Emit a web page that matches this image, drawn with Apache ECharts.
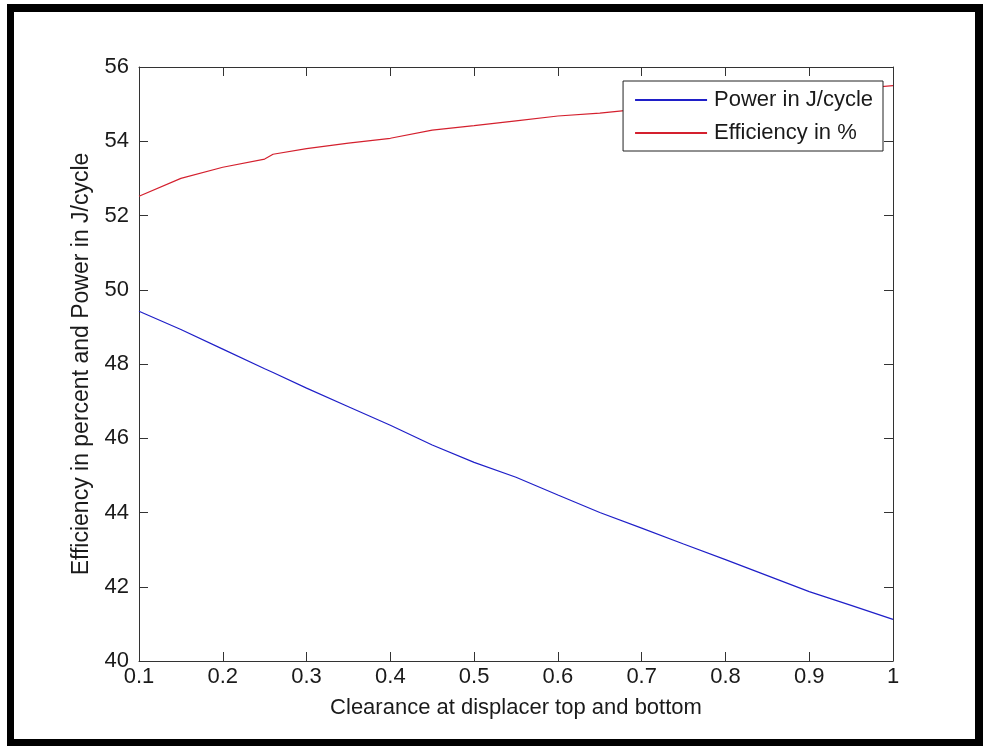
<!DOCTYPE html>
<html>
<head>
<meta charset="utf-8">
<script src="https://cdn.jsdelivr.net/npm/echarts@6/dist/echarts.min.js"></script>
<style>
  html, body { margin: 0; padding: 0; background: #fff; }
  #chart { width: 983px; height: 746px; }
</style>
</head>
<body>
<div id="chart"></div>
<script>
// Clearance values (x) at which both quantities were sampled
const clearance = [0.10, 0.15, 0.20, 0.25, 0.26, 0.30, 0.35, 0.40, 0.45, 0.50,
                   0.55, 0.60, 0.65, 0.70, 0.75, 0.80, 0.85, 0.90, 0.95, 1.00];

// Work per cycle, J/cycle
const power = [49.42, 48.93, 48.40, 47.87, 47.77, 47.35, 46.85, 46.35, 45.82, 45.35,
               44.95, 44.47, 44.00, 43.58, 43.15, 42.73, 42.30, 41.87, 41.50, 41.12];

// Thermal efficiency, %
const efficiency = [52.52, 53.00, 53.30, 53.52, 53.65, 53.80, 53.95, 54.08, 54.30, 54.42,
                    54.55, 54.68, 54.76, 54.87, 55.00, 55.10, 55.20, 55.30, 55.40, 55.50];

const xTicks = { min: 0.1, max: 1, interval: 0.1 };
const yTicks = { min: 40, max: 56, interval: 2 };

const FONT = 'Liberation Sans, Arial, sans-serif';
const INK = '#1a1a1a';
const AXIS = '#333333';
const BLUE = '#1f1fc8';
const RED = '#d4202e';

const pairs = (xs, ys) => xs.map((x, i) => [x, ys[i]]);

const chart = echarts.init(document.getElementById('chart'), null, { renderer: 'canvas' });

const tickSide = {
  axisLine: { show: true, lineStyle: { color: AXIS, width: 1 } },
  axisTick: { show: true, inside: true, length: 9, lineStyle: { color: AXIS, width: 1 } },
  splitLine: { show: false }
};

chart.setOption({
  backgroundColor: '#ffffff',
  animation: false,
  textStyle: { fontFamily: FONT },
  grid: { left: 139, top: 67, right: 90, bottom: 85, containLabel: false },
  xAxis: [
    Object.assign({
      type: 'value', position: 'bottom',
      min: xTicks.min, max: xTicks.max, interval: xTicks.interval,
      name: 'Clearance at displacer top and bottom',
      nameLocation: 'middle', nameGap: 36,
      nameTextStyle: { fontSize: 22, color: INK, fontFamily: FONT },
      axisLabel: {
        fontSize: 22, color: INK, fontFamily: FONT, margin: 5,
        formatter: v => String(+v.toFixed(2))
      }
    }, tickSide),
    Object.assign({
      type: 'value', position: 'top',
      min: xTicks.min, max: xTicks.max, interval: xTicks.interval,
      name: '',
      axisLabel: { show: false }
    }, tickSide)
  ],
  yAxis: [
    Object.assign({
      type: 'value', position: 'left',
      min: yTicks.min, max: yTicks.max, interval: yTicks.interval,
      name: 'Efficiency in percent and Power in J/cycle',
      nameLocation: 'middle', nameGap: 44, nameRotate: 90,
      nameTextStyle: { fontSize: 23, color: INK, fontFamily: FONT },
      axisLabel: { fontSize: 22, color: INK, fontFamily: FONT, margin: 10 }
    }, tickSide),
    Object.assign({
      type: 'value', position: 'right',
      min: yTicks.min, max: yTicks.max, interval: yTicks.interval,
      name: '',
      axisLabel: { show: false }
    }, tickSide)
  ],
  legend: {
    orient: 'vertical',
    right: 100, top: 81,
    padding: [7, 10, 6, 12],
    itemWidth: 72, itemHeight: 2, itemGap: 9,
    backgroundColor: '#ffffff',
    borderColor: '#222222', borderWidth: 1,
    icon: 'rect',
    textStyle: { fontSize: 22, lineHeight: 24, color: INK, fontFamily: FONT, padding: [0, 0, 0, 2] },
    data: [
      { name: 'Power in J/cycle', itemStyle: { color: BLUE } },
      { name: 'Efficiency in %', itemStyle: { color: RED } }
    ]
  },
  graphic: [
    // black frame around the figure
    { type: 'rect', silent: true, z: 100, shape: { x: 7, y: 4, width: 7, height: 742 }, style: { fill: '#000' } },
    { type: 'rect', silent: true, z: 100, shape: { x: 7, y: 4, width: 976, height: 8 }, style: { fill: '#000' } },
    { type: 'rect', silent: true, z: 100, shape: { x: 975, y: 4, width: 8, height: 742 }, style: { fill: '#000' } },
    { type: 'rect', silent: true, z: 100, shape: { x: 7, y: 739, width: 976, height: 7 }, style: { fill: '#000' } }
  ],
  series: [
    {
      name: 'Power in J/cycle', type: 'line',
      data: pairs(clearance, power),
      showSymbol: false, symbol: 'none',
      lineStyle: { color: BLUE, width: 1.2 },
      itemStyle: { color: BLUE }
    },
    {
      name: 'Efficiency in %', type: 'line',
      data: pairs(clearance, efficiency),
      showSymbol: false, symbol: 'none',
      lineStyle: { color: RED, width: 1.2 },
      itemStyle: { color: RED }
    }
  ]
});
</script>
</body>
</html>
